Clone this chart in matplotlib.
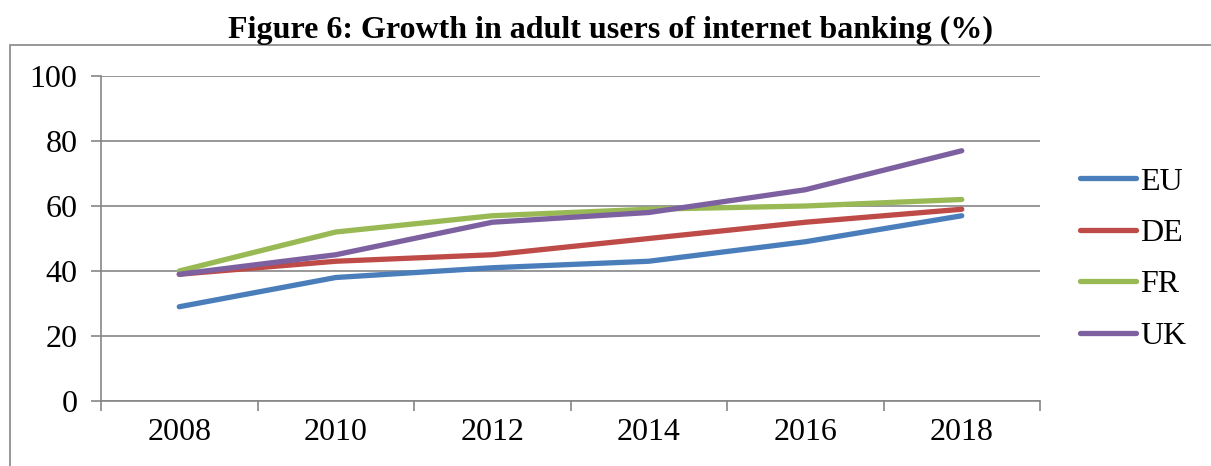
import matplotlib
matplotlib.use("Agg")
import matplotlib.pyplot as plt
from matplotlib.patches import Rectangle
from matplotlib.lines import Line2D

years = ["2008", "2010", "2012", "2014", "2016", "2018"]
eu = [29, 38, 41, 43, 49, 57]
de = [39, 43, 45, 50, 55, 59]
fr = [40, 52, 57, 59, 60, 62]
uk = [39, 45, 55, 58, 65, 77]
series_names = ["EU", "DE", "FR", "UK"]
series_values = [eu, de, fr, uk]
colors = ["#4A7EBB", "#BE4B48", "#98B954", "#7D60A0"]

plt.rcParams['font.family'] = ['Liberation Serif', 'DejaVu Serif']

W, H = 1211, 466
fig = plt.figure(figsize=(W / 100, H / 100), dpi=100)

# outer chart frame
fig.add_artist(Rectangle((10 / W, -0.1), 1.2, (H - 45) / H + 0.1, transform=fig.transFigure,
                         fill=False, edgecolor="#868686", linewidth=1.2))

ax = fig.add_axes([101 / W, (H - 401) / H, (1040 - 101) / W, (401 - 76) / H])
x = list(range(len(years)))
for name, vals, c in zip(series_names, series_values, colors):
    ax.plot(x, vals, color=c, linewidth=3.8, solid_capstyle="round", solid_joinstyle="round", label=name)

ax.set_xlim(-0.5, len(years) - 0.5)
ax.set_ylim(0, 100)
ax.set_yticks(range(0, 101, 20))
ax.yaxis.grid(True, color="#868686", linewidth=1.2)
ax.set_axisbelow(True)

ax.set_xticks([i - 0.5 for i in range(len(years) + 1)])
ax.set_xticklabels([])
ax.set_xticks(x, minor=True)
ax.set_xticklabels(years, minor=True)
ax.tick_params(axis="x", which="major", direction="out", length=7, width=1.2, color="#868686")
ax.tick_params(axis="x", which="minor", length=0, pad=12, labelsize=23)
ax.tick_params(axis="y", direction="out", length=7, width=1.2, color="#868686", labelsize=23, pad=10)

for s in ["top", "right"]:
    ax.spines[s].set_visible(False)
for s in ["left", "bottom"]:
    ax.spines[s].set_color("#868686")
    ax.spines[s].set_linewidth(1.2)

fig.text(611 / W, 1 - 30 / H, "Figure 6: Growth in adult users of internet banking (%)",
         ha="center", va="center", fontsize=23, fontweight="bold")

handles = [Line2D([0], [0], color=c, linewidth=3.8, solid_capstyle="round") for c in colors]
leg = fig.legend(handles, series_names, loc="center left", bbox_to_anchor=(1067 / W, 1 - 259 / H),
                 frameon=False, fontsize=23, handlelength=1.75, handletextpad=0.15,
                 labelspacing=0.69, borderaxespad=0)

fig.savefig("out.png", dpi=100)
